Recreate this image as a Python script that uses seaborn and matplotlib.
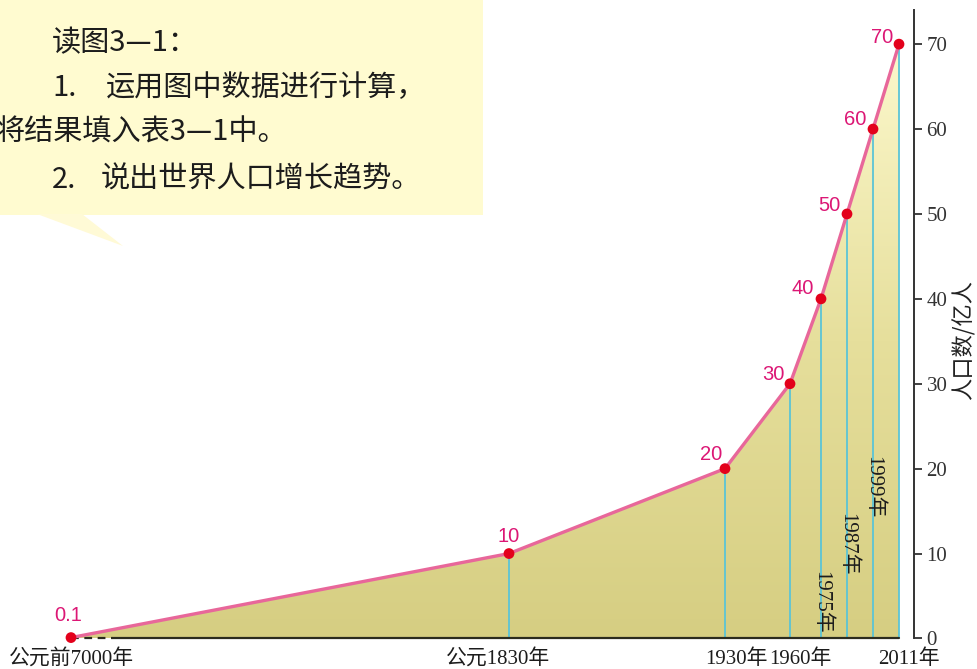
import numpy as np
import matplotlib
matplotlib.use("Agg")
import matplotlib.pyplot as plt
from matplotlib.patches import Rectangle, Polygon
from matplotlib.colors import LinearSegmentedColormap
import seaborn as sns

# values (x is a schematic, non-linear time axis)
years = ["公元前7000年", "公元1830年", "1930年", "1960年", "1975年", "1987年", "1999年", "2011年"]
population = [0.1, 10, 20, 30, 40, 50, 60, 70]  # 亿人
x_pos = [71, 509, 725, 790, 821, 847, 873, 899]
y_ticks = [0, 10, 20, 30, 40, 50, 60, 70]
value_labels = ["0.1", "10", "20", "30", "40", "50", "60", "70"]
bottom_idx = [0, 1, 2, 3, 7]   # years written under the baseline
side_idx = [4, 5, 6]           # years written vertically inside the area

W, H = 977, 669
SANS = ["Liberation Sans", "Noto Sans CJK SC", "DejaVu Sans"]
SERIF = ["Liberation Serif", "Noto Sans CJK SC", "DejaVu Sans"]
CJK = ["Noto Sans CJK SC", "DejaVu Sans"]

sns.set_style("white")
plt.rcParams["font.family"] = SANS


def fig_xy(x, row):
    # pixel position -> axes fraction (axes covers the whole figure)
    return x / W, 1 - row / H


fig = plt.figure(figsize=(W / 100, H / 100), dpi=100)
fig.patch.set_facecolor("white")
ax = fig.add_axes([0, 0, 1, 1])
ax.patch.set_visible(False)

# --- speech bubble ---
ax.add_patch(Rectangle(fig_xy(0, 215), 483 / W, 215 / H, transform=ax.transAxes,
                       fc="#fffbd0", ec="none", zorder=0.5))
ax.add_patch(Polygon([fig_xy(37, 214), fig_xy(82, 214), fig_xy(123, 246)], closed=True,
                     transform=ax.transAxes, fc="#fffad6", ec="none", zorder=0.5))
tkw = dict(transform=ax.transAxes, fontsize=21, family=CJK, color="#1c1c1c", va="center", ha="left")
ax.text(*fig_xy(52, 43), "读图3—1：", **tkw)
ax.text(*fig_xy(52, 88), "1.", **tkw)
ax.text(*fig_xy(106, 88), "运用图中数据进行计算，", **tkw)
ax.text(*fig_xy(-4, 133), "将结果填入表3—1中。", **tkw)
ax.text(*fig_xy(52, 180), "2.", **tkw)
ax.text(*fig_xy(101, 180), "说出世界人口增长趋势。", **tkw)

# --- gradient area under the curve ---
verts = list(zip(x_pos, population)) + [(x_pos[-1], 0), (x_pos[0], 0)]
area = Polygon(verts, closed=True, fc="none", ec="none", transform=ax.transData)
ax.add_patch(area)
cmap = LinearSegmentedColormap.from_list("sand", ["#d6ce82", "#e6df9c", "#fcf8cc"])
grad = np.linspace(0, 1, 256).reshape(-1, 1)
im = ax.imshow(grad, extent=[x_pos[0], x_pos[-1], 0, max(population)], origin="lower",
               aspect="auto", cmap=cmap, zorder=1)
im.set_clip_path(area)

# vertical guide lines
ax.vlines(x_pos[1:], 0, population[1:], color="#5bc4d6", lw=1.3, zorder=2)

# baseline (dashed near the start)
ax.plot([x_pos[0], x_pos[0] + 42], [0, 0], color="#2b2b1e", lw=1.6, ls=(0, (3.5, 2.5)), zorder=2)
ax.plot([x_pos[0] + 42, x_pos[-1]], [0, 0], color="#2b2b1e", lw=1.6, zorder=2)

# curve and points
sns.lineplot(x=x_pos, y=population, color="#e8679a", lw=2.4, sort=False, ax=ax, zorder=3)
sns.scatterplot(x=x_pos, y=population, color="#e3001b", s=60, edgecolor="none", ax=ax, zorder=4)

# value labels
offsets = [(-3, 22), (0, 17), (-14, 14), (-17, 9), (-18, 10), (-18, 8), (-18, 10), (-17, 7)]
for xv, yv, lab, off in zip(x_pos, population, value_labels, offsets):
    ax.annotate(lab, (xv, yv), xytext=off, textcoords="offset pixels", ha="center", va="center",
                fontsize=14.5, color="#dc1775", family=SANS, zorder=5)

# year labels under the baseline
shifts = [0, -11, 11, 10, 10]
for i, sh in zip(bottom_idx, shifts):
    ax.text(x_pos[i] + sh, -2.4, years[i], ha="center", va="center", fontsize=15,
            family=SERIF, color="#1c1c1c")

# vertical year labels
side_y = [4.3, 11.1, 17.8]
for i, yv in zip(side_idx, side_y):
    ax.text(x_pos[i], yv, years[i], rotation=-90, ha="center", va="center", fontsize=15,
            family=SERIF, color="#1c1c1c", zorder=5)

# right-hand value axis
for s in ["left", "top", "bottom"]:
    ax.spines[s].set_visible(False)
ax.spines["right"].set_position(("data", 914))
ax.spines["right"].set_bounds(0, 74)
ax.spines["right"].set_color("#333333")
ax.spines["right"].set_linewidth(1.4)
ax.yaxis.tick_right()
ax.set_yticks(y_ticks)
ax.set_yticklabels([str(t) for t in y_ticks], family=SERIF, fontsize=15, color="#222222")
ax.tick_params(axis="y", direction="out", length=6, width=1.3, pad=3, colors="#333333")
ax.set_xticks([])
ax.set_ylabel("人口数/亿人", fontsize=16, family=CJK, color="#222222", rotation=90)
ax.yaxis.set_label_position("right")
ax.yaxis.set_label_coords(952 / W, 1 - 340 / H)

ax.set_xlim(0, W)
ax.set_ylim(-3.6, 75.2)

fig.savefig("out.png", dpi=100)
